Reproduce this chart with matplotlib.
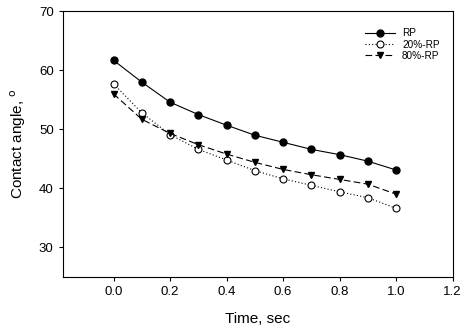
import matplotlib
matplotlib.use("Agg")
import matplotlib.pyplot as plt

plt.rcParams['font.family'] = ['Liberation Sans', 'DejaVu Sans']

time = [0.0, 0.1, 0.2, 0.3, 0.4, 0.5, 0.6, 0.7, 0.8, 0.9, 1.0]
rp = [61.7, 58.0, 54.6, 52.5, 50.7, 49.0, 47.8, 46.6, 45.7, 44.6, 43.1]
rp20 = [57.7, 52.8, 49.1, 46.6, 44.8, 43.0, 41.6, 40.5, 39.4, 38.4, 36.6]
rp80 = [56.0, 51.7, 49.3, 47.4, 45.8, 44.4, 43.2, 42.3, 41.5, 40.7, 39.0]

xticks = [0.0, 0.2, 0.4, 0.6, 0.8, 1.0, 1.2]
yticks = [30, 40, 50, 60, 70]

fig = plt.figure(figsize=(4.68, 3.35), dpi=100)
ax = fig.add_axes([0.134, 0.174, 0.833, 0.792])

ax.plot(time, rp, color='black', lw=0.8, marker='o', ms=5,
        mfc='black', mec='black', label='RP')
ax.plot(time, rp20, color='black', lw=0.8, ls=(0, (1, 2)), marker='o', ms=5,
        mfc='white', mec='black', mew=0.8, label='20%-RP')
ax.plot(time, rp80, color='black', lw=0.8, ls=(0, (6, 3)), marker='v', ms=5,
        mfc='black', mec='black', label='80%-RP')

ax.set_xlim(-0.18, 1.2)
ax.set_ylim(25, 70)
ax.set_xticks(xticks)
ax.set_xticklabels([f'{t:.1f}' for t in xticks])
ax.set_yticks(yticks)
ax.tick_params(direction='out', length=3, width=0.8, labelsize=9.5, colors='black')
for s in ax.spines.values():
    s.set_linewidth(0.8)

ax.set_xlabel('Time, sec', fontsize=11, labelpad=10)
ax.set_ylabel('Contact angle, $^{\\rm o}$', fontsize=11, labelpad=8)

leg = ax.legend(loc='upper right', frameon=False, fontsize=7.2,
                bbox_to_anchor=(0.99, 0.97), handlelength=3.0,
                handletextpad=0.7, labelspacing=0.12)

fig.savefig('out.png', dpi=100)
